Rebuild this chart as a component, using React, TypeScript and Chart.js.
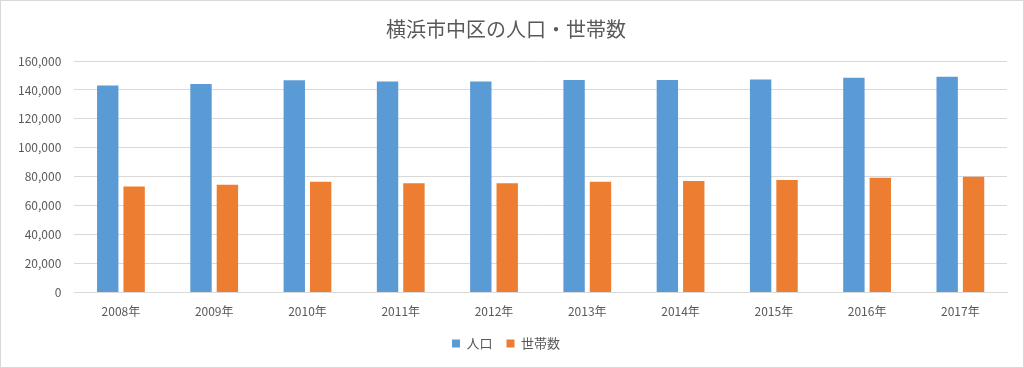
import React, { useEffect, useRef } from "react";
import { Chart, registerables } from "chart.js";

Chart.register(...registerables);

const categories = ["2008年", "2009年", "2010年", "2011年", "2012年", "2013年", "2014年", "2015年", "2016年", "2017年"];
const population = [143000, 144100, 146700, 145800, 145800, 146900, 146900, 147300, 148400, 149100];
const households = [73300, 74500, 76500, 75600, 75600, 76500, 77100, 77800, 79300, 80000];
const seriesNames = ["人口", "世帯数"];
const titleText = "横浜市中区の人口・世帯数";

const FONT = "'Noto Sans CJK JP', 'Noto Sans', sans-serif";

export default function App() {
  const ref = useRef<HTMLCanvasElement | null>(null);
  useEffect(() => {
    document.body.style.margin = "0";
    if (!ref.current) return;
    const chart = new Chart(ref.current, {
      type: "bar",
      data: {
        labels: categories,
        datasets: [
          { label: seriesNames[0], data: population, backgroundColor: "#5B9BD5", categoryPercentage: 0.566, barPercentage: 0.81 },
          { label: seriesNames[1], data: households, backgroundColor: "#ED7D31", categoryPercentage: 0.566, barPercentage: 0.81 },
        ],
      },
      options: {
        animation: false,
        responsive: false,
        maintainAspectRatio: false,
        layout: { padding: { left: 4, right: 16, top: 8, bottom: 7 } },
        plugins: {
          title: {
            display: true,
            text: titleText,
            color: "#595959",
            font: { family: FONT, size: 20, weight: "normal" },
            padding: { top: 8, bottom: 20 },
          },
          legend: {
            position: "bottom",
            labels: {
              color: "#595959",
              font: { family: FONT, size: 13 },
              boxWidth: 8,
              boxHeight: 8,
              padding: 14,
            },
          },
          tooltip: { enabled: false },
        },
        scales: {
          x: {
            grid: { display: false },
            border: { display: true, color: "#d9d9d9" },
            ticks: { color: "#595959", font: { family: FONT, size: 12 }, maxRotation: 0, padding: 4 },
          },
          y: {
            min: 0,
            max: 160000,
            grid: { color: "#d9d9d9", drawTicks: false },
            border: { display: false },
            ticks: {
              stepSize: 20000,
              color: "#595959",
              font: { family: FONT, size: 12 },
              padding: 13,
              callback: (v: any) => Number(v).toLocaleString("en-US"),
            },
          },
        },
      },
    });
    return () => chart.destroy();
  }, []);
  return (
    <div style={{ position: "relative", width: 1024, height: 368, boxSizing: "border-box", border: "1px solid #d9d9d9", background: "#fff" }}>
      <canvas ref={ref} width={1022} height={366} style={{ display: "block" }} />
    </div>
  );
}
